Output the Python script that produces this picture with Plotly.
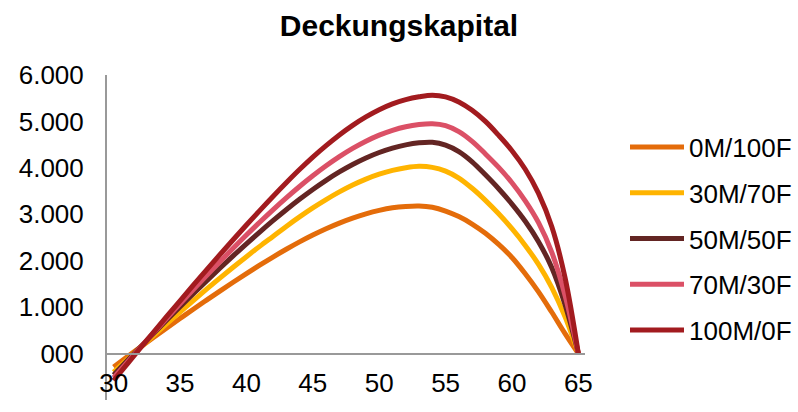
import plotly.graph_objects as go

# Age axis (years 30..65)
ages = list(range(30, 66))

# Reserve (Deckungskapital) per mix of male/female share
s_0m_100f = [-290, -75, 137, 346, 552, 755, 955, 1152, 1346, 1536, 1722, 1903,
             2078, 2246, 2405, 2553, 2689, 2811, 2918, 3009, 3083, 3139, 3169, 3179,
             3150, 3070, 2950, 2790, 2590, 2350, 2070, 1720, 1330, 890, 430, 0]
s_30m_70f = [-400, -135, 127, 386, 642, 894, 1142, 1386, 1625, 1859, 2087, 2309,
             2524, 2739, 2944, 3137, 3317, 3482, 3630, 3758, 3864, 3946, 4002, 4032,
             4010, 3930, 3780, 3560, 3300, 3010, 2690, 2330, 1920, 1420, 790, 0]
s_50m_50f = [-460, -160, 137, 431, 721, 1007, 1289, 1566, 1838, 2104, 2364, 2617,
             2862, 3098, 3323, 3535, 3732, 3912, 4073, 4213, 4331, 4426, 4496, 4540,
             4550, 4490, 4350, 4130, 3850, 3550, 3220, 2850, 2410, 1850, 1050, 0]
s_70m_30f = [-520, -195, 127, 446, 761, 1072, 1379, 1681, 1978, 2269, 2553, 2829,
             3096, 3353, 3598, 3829, 4044, 4241, 4418, 4573, 4704, 4809, 4886, 4933,
             4950, 4910, 4780, 4570, 4300, 4010, 3680, 3290, 2820, 2180, 1250, 0]
s_100m_0f = [-580, -232, 114, 458, 799, 1137, 1472, 1803, 2130, 2452, 2769, 3080,
             3384, 3679, 3963, 4231, 4479, 4709, 4916, 5098, 5253, 5380, 5470, 5530,
             5565, 5530, 5420, 5240, 5000, 4700, 4370, 3970, 3450, 2730, 1630, 0]

series_names = ["0M/100F", "30M/70F", "50M/50F", "70M/30F", "100M/0F"]
series_values = [s_0m_100f, s_30m_70f, s_50m_50f, s_70m_30f, s_100m_0f]
series_colors = ["#E46C0A", "#FFB400", "#632523", "#DB5066", "#A21B1F"]

x_tickvals = [30, 35, 40, 45, 50, 55, 60, 65]
y_tickvals = [-1000, 0, 1000, 2000, 3000, 4000, 5000, 6000]
y_ticktext = ["-1.000", "000", "1.000", "2.000", "3.000", "4.000", "5.000", "6.000"]

y_min, y_max = -1000, 6000
x_min, x_max = 29.5, 65.5

FONT = "Arial, 'Liberation Sans', sans-serif"
AXIS_GREY = "#999999"

fig = go.Figure()
for name, vals, col in zip(series_names, series_values, series_colors):
    fig.add_trace(go.Scatter(
        x=ages, y=vals, name=name, mode="lines", legendgroup=name,
        line=dict(color=col, width=5, shape="spline", smoothing=1.0),
    ))

# horizontal axis crosses the vertical one at value 0
zero_pos = (0 - y_min) / (y_max - y_min)

fig.update_layout(
    width=798, height=412,
    margin=dict(l=107, r=213, t=75, b=12),
    paper_bgcolor="white", plot_bgcolor="white",
    font=dict(family=FONT, size=26, color="#000000"),
    title=dict(text="<b>Deckungskapital</b>", x=0.5, xref="container",
               y=1 - 25 / 412, yref="container", yanchor="middle", xanchor="center",
               font=dict(family=FONT, size=30, color="#000000")),
    showlegend=True,
    legend=dict(xref="container", x=625 / 798, yref="paper", y=(400 - 239) / 325,
                xanchor="left", yanchor="middle", traceorder="grouped",
                tracegroupgap=9, itemwidth=54, bgcolor="rgba(0,0,0,0)",
                font=dict(family=FONT, size=26, color="#000000")),
    xaxis=dict(range=[x_min, x_max], tickvals=x_tickvals, showgrid=False,
               zeroline=False, showline=True, linecolor=AXIS_GREY, linewidth=2,
               anchor="free", position=zero_pos, ticks="", ticklabelstandoff=6,
               tickfont=dict(family=FONT, size=26)),
    yaxis=dict(range=[y_min, y_max], tickvals=y_tickvals, ticktext=y_ticktext,
               showgrid=False, zeroline=False, showline=True, linecolor=AXIS_GREY,
               linewidth=2, ticks="", ticklabelstandoff=16,
               tickfont=dict(family=FONT, size=26)),
)

fig.write_html("out.html")
